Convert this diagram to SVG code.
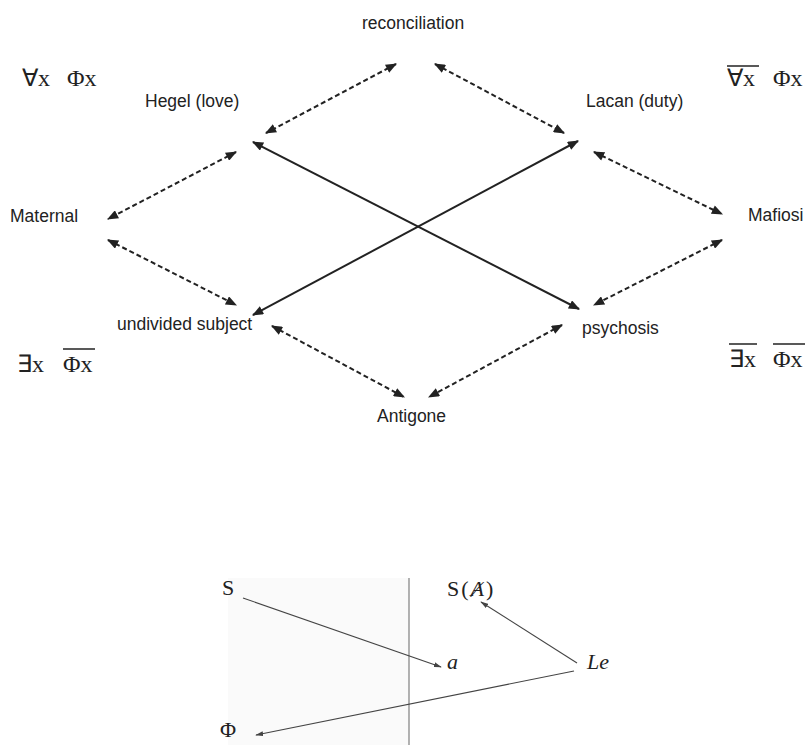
<svg xmlns="http://www.w3.org/2000/svg" width="805" height="745" viewBox="0 0 805 745">
<style>
.lbl{font-family:"Liberation Sans",Arial,sans-serif;font-size:17.5px;fill:#222}
.sym{font-family:"Liberation Serif","Times New Roman",serif;font-size:24px;fill:#222}
.ser{font-family:"Liberation Serif","DejaVu Serif",serif;font-size:22px;fill:#222}
.dash{stroke:#222;stroke-width:2;stroke-dasharray:5 3;fill:none}
.solid{stroke:#222;stroke-width:2;fill:none}
.thin{stroke:#444;stroke-width:1.1;fill:none}
.ov{stroke:#222;stroke-width:1.5}
</style>
<defs>
<marker id="ah" viewBox="0 0 10 8" refX="9" refY="4" markerWidth="12" markerHeight="9" markerUnits="userSpaceOnUse" orient="auto-start-reverse">
<path d="M0,0 L10,4 L0,8 z" fill="#222"/>
</marker>
<marker id="ahs" viewBox="0 0 10 6" refX="9" refY="3" markerWidth="8" markerHeight="5" markerUnits="userSpaceOnUse" orient="auto-start-reverse">
<path d="M0,0 L10,3 L0,6 z" fill="#444"/>
</marker>
</defs>
<rect width="805" height="745" fill="#ffffff"/>

<g id="formulas">
<text class="sym" x="22" y="86">∀x</text>
<text class="sym" x="67" y="86">Φx</text>
<text class="sym" x="727" y="86">∀x</text>
<text class="sym" x="773" y="86">Φx</text>
<line class="ov" x1="727" y1="66" x2="759" y2="66"/>
<text class="sym" x="17" y="372">∃x</text>
<text class="sym" x="63" y="372">Φx</text>
<line class="ov" x1="63" y1="349" x2="95" y2="349"/>
<text class="sym" x="729" y="367">∃x</text>
<text class="sym" x="773" y="367">Φx</text>
<line class="ov" x1="729" y1="344" x2="757" y2="344"/>
<line class="ov" x1="773" y1="344" x2="805" y2="344"/>
</g>

<g id="connectors">
<line class="dash" x1="396" y1="64" x2="266" y2="133" marker-start="url(#ah)" marker-end="url(#ah)"/>
<line class="dash" x1="435" y1="64" x2="564" y2="133" marker-start="url(#ah)" marker-end="url(#ah)"/>
<line class="dash" x1="236" y1="152" x2="108" y2="219" marker-start="url(#ah)" marker-end="url(#ah)"/>
<line class="dash" x1="108" y1="240" x2="236" y2="305" marker-start="url(#ah)" marker-end="url(#ah)"/>
<line class="dash" x1="594" y1="152" x2="722" y2="214" marker-start="url(#ah)" marker-end="url(#ah)"/>
<line class="dash" x1="722" y1="240" x2="594" y2="305" marker-start="url(#ah)" marker-end="url(#ah)"/>
<line class="dash" x1="272" y1="326" x2="404" y2="397" marker-start="url(#ah)" marker-end="url(#ah)"/>
<line class="dash" x1="562" y1="325" x2="429" y2="397" marker-start="url(#ah)" marker-end="url(#ah)"/>
<line class="solid" x1="253" y1="142" x2="579" y2="309" marker-start="url(#ah)" marker-end="url(#ah)"/>
<line class="solid" x1="253" y1="315" x2="578" y2="141" marker-start="url(#ah)" marker-end="url(#ah)"/>
</g>

<g id="n-reconciliation"><text class="lbl" x="362" y="29">reconciliation</text></g>
<g id="n-hegel"><text class="lbl" x="145" y="107">Hegel (love)</text></g>
<g id="n-lacan"><text class="lbl" x="586" y="107">Lacan (duty)</text></g>
<g id="n-maternal"><text class="lbl" x="10" y="222">Maternal</text></g>
<g id="n-mafiosi"><text class="lbl" x="748" y="221">Mafiosi</text></g>
<g id="n-undivided"><text class="lbl" x="117" y="330">undivided subject</text></g>
<g id="n-psychosis"><text class="lbl" x="582" y="334">psychosis</text></g>
<g id="n-antigone"><text class="lbl" x="377" y="422">Antigone</text></g>

<g id="graph2">
<rect x="228" y="578" width="181" height="167" fill="#fafafa"/>
<line x1="409" y1="578" x2="409" y2="745" stroke="#666" stroke-width="1"/>
<g id="n-S"><text class="ser" x="222" y="595">S</text></g>
<g id="n-SA"><text class="ser" x="447" y="596" font-size="24" letter-spacing="2">S(<tspan font-style="italic">Ⱥ</tspan>)</text></g>
<g id="n-a"><text class="ser" x="447" y="669" font-style="italic">a</text></g>
<g id="n-Le"><text class="ser" x="587" y="669" font-style="italic" font-size="18">Le</text></g>
<g id="n-Phi"><text class="ser" x="220" y="737">Φ</text></g>
<g id="connectors2">
<line class="thin" x1="243" y1="598" x2="441" y2="667" marker-end="url(#ahs)"/>
<line class="thin" x1="577" y1="663" x2="481" y2="602" marker-end="url(#ahs)"/>
<line class="thin" x1="574" y1="671" x2="256" y2="735" marker-end="url(#ahs)"/>
</g>
</g>
</svg>
